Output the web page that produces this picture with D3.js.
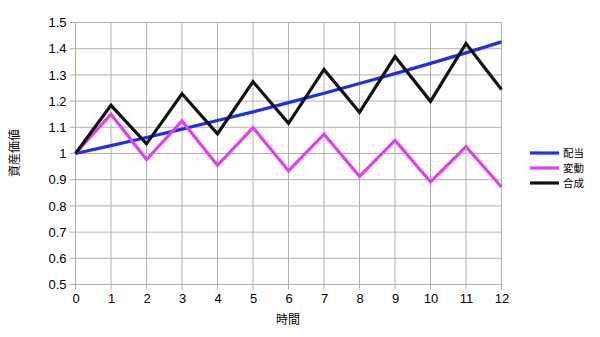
<!DOCTYPE html>
<html>
<head>
<meta charset="utf-8">
<script src="https://cdn.jsdelivr.net/npm/d3@7"></script>
<style>
  body { margin: 0; background: #fff; }
  svg { font-family: "Liberation Sans", Arial, "Noto Sans CJK JP", sans-serif; }
  .tick text { font-size: 13px; fill: #000; }
</style>
</head>
<body>
<svg id="chart"></svg>
<script>
const w = 600;
const h = 337;

const times = [0, 1, 2, 3, 4, 5, 6, 7, 8, 9, 10, 11, 12];
const haito = [1, 1.03, 1.061, 1.093, 1.126, 1.159, 1.194, 1.23, 1.267, 1.305, 1.344, 1.384, 1.426];
const hendo = [1, 1.15, 0.977, 1.124, 0.955, 1.099, 0.934, 1.074, 0.913, 1.05, 0.892, 1.026, 0.872];
const gosei = [1, 1.184, 1.037, 1.228, 1.075, 1.274, 1.115, 1.321, 1.157, 1.37, 1.199, 1.42, 1.244];
const yTicks = [0.5, 0.6, 0.7, 0.8, 0.9, 1, 1.1, 1.2, 1.3, 1.4, 1.5];

const series = [
  { name: "配当", values: haito, color: "#1f2ff0" },
  { name: "変動", values: hendo, color: "#e040f2" },
  { name: "合成", values: gosei, color: "#111111" },
];

const svg = d3.select("#chart").attr("width", w).attr("height", h);

const xScale = d3.scaleLinear().domain([0, 12]).range([75.5, 501.5]);
const yScale = d3.scaleLinear().domain([0.5, 1.5]).range([284.5, 22.5]);

// grid
svg.append("g")
  .selectAll("line")
  .data(times)
  .enter()
  .append("line")
  .attr("x1", (d) => xScale(d))
  .attr("x2", (d) => xScale(d))
  .attr("y1", yScale(1.5))
  .attr("y2", yScale(0.5) + 5)
  .attr("stroke", "#b3b3b3");

svg.append("g")
  .selectAll("line")
  .data(yTicks)
  .enter()
  .append("line")
  .attr("x1", xScale(0) - 6)
  .attr("x2", xScale(12))
  .attr("y1", (d) => yScale(d))
  .attr("y2", (d) => yScale(d))
  .attr("stroke", "#b3b3b3");

// axes (labels only)
const yAxis = d3.axisLeft(yScale).tickValues(yTicks).tickSize(0).tickPadding(9)
  .tickFormat((d) => d3.format("")(d));
svg.append("g")
  .attr("transform", "translate(" + xScale(0) + ",0)")
  .call(yAxis)
  .call((g) => g.select(".domain").remove());

const xAxis = d3.axisBottom(xScale).tickValues(times).tickSize(0).tickPadding(9)
  .tickFormat(d3.format("d"));
svg.append("g")
  .attr("transform", "translate(0," + yScale(0.5) + ")")
  .call(xAxis)
  .call((g) => g.select(".domain").remove());

// lines
const line = d3.line()
  .x((d, i) => xScale(times[i]))
  .y((d) => yScale(d));

svg.append("g")
  .selectAll("path")
  .data(series)
  .enter()
  .append("path")
  .attr("d", (s) => line(s.values))
  .attr("fill", "none")
  .attr("stroke", (s) => s.color)
  .attr("stroke-width", 3.2)
  .attr("stroke-linejoin", "miter");

// axis titles
svg.append("text")
  .attr("transform", "translate(19,153) rotate(-90)")
  .attr("text-anchor", "middle")
  .style("font-size", "12px")
  .style("font-family", "'Noto Sans CJK JP', sans-serif")
  .text("資産価値");

svg.append("text")
  .attr("x", 288)
  .attr("y", 324)
  .attr("text-anchor", "middle")
  .style("font-size", "12px")
  .style("font-family", "'Noto Sans CJK JP', sans-serif")
  .text("時間");

// legend
const legend = svg.append("g").selectAll("g")
  .data(series)
  .enter()
  .append("g")
  .attr("transform", (s, i) => "translate(530," + (153 + i * 15) + ")");

legend.append("line")
  .attr("x1", 0)
  .attr("x2", 29)
  .attr("stroke", (s) => s.color)
  .attr("stroke-width", 3.2);

legend.append("text")
  .attr("x", 33)
  .attr("y", 4)
  .style("font-size", "10.5px")
  .style("font-family", "'Noto Sans CJK JP', sans-serif")
  .text((s) => s.name);
</script>
</body>
</html>
